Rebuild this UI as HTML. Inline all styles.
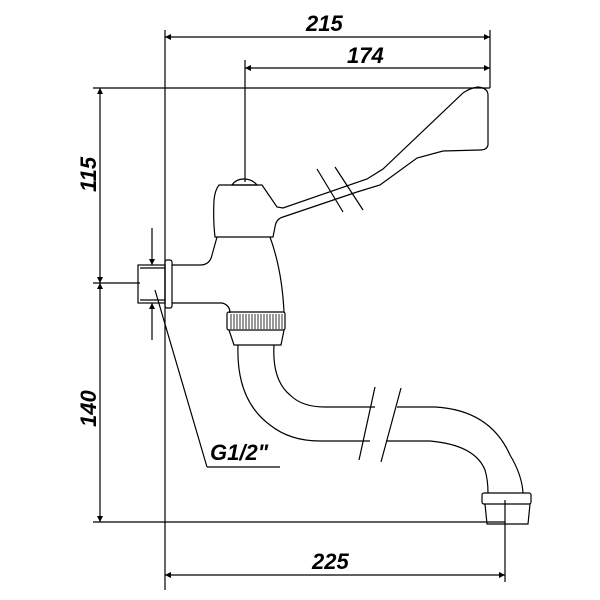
<!DOCTYPE html>
<html><head><style>html,body{margin:0;padding:0;background:#fff}svg{display:block}
text{font-family:"Liberation Sans",sans-serif;font-weight:bold;font-style:italic;font-size:22px;fill:#000}</style></head>
<body>
<svg width="600" height="600" viewBox="0 0 600 600" xmlns="http://www.w3.org/2000/svg">
<defs><marker id="a" viewBox="0 0 10 10" refX="10" refY="5" markerWidth="10" markerHeight="6" orient="auto-start-reverse" markerUnits="userSpaceOnUse"><path d="M0,0 L10,5 L0,10 z" fill="#000"/></marker></defs>
<g stroke="#000" stroke-width="1.2" fill="none">
<line x1="165" y1="30" x2="165" y2="590"/>
<line x1="490" y1="30" x2="490" y2="88"/>
<line x1="165" y1="37" x2="490" y2="37" marker-start="url(#a)" marker-end="url(#a)"/>
<line x1="245" y1="60" x2="245" y2="182"/>
<line x1="245" y1="68" x2="490" y2="68" marker-start="url(#a)" marker-end="url(#a)"/>
<line x1="93" y1="88" x2="490" y2="88"/>
<line x1="93" y1="283" x2="140" y2="283"/>
<line x1="93" y1="522" x2="505" y2="522"/>
<line x1="100" y1="88" x2="100" y2="283" marker-start="url(#a)" marker-end="url(#a)"/>
<line x1="100" y1="283" x2="100" y2="522" marker-start="url(#a)" marker-end="url(#a)"/>
<line x1="505" y1="500" x2="505" y2="582"/>
<line x1="165" y1="575" x2="505" y2="575" marker-start="url(#a)" marker-end="url(#a)"/>
<line x1="152" y1="228" x2="152" y2="265" marker-end="url(#a)"/>
<line x1="152" y1="340" x2="152" y2="303" marker-end="url(#a)"/>
<line x1="155" y1="290" x2="207" y2="467"/>
<line x1="207" y1="467" x2="280" y2="467"/>
<rect x="138" y="265" width="27" height="38"/>
<line x1="140" y1="268" x2="165" y2="268"/><line x1="140" y1="300" x2="165" y2="300"/>
<rect x="165" y="260" width="7" height="48" rx="2"/>
<path d="M232,185 Q236,179 244,179 Q252,179 257,185 Z"/>
<path d="M219,185 L262,185 L277,207 L283,208 L367,179 L383,169 L463,93 Q470,88 478,87 Q488,88 488,95 L488,145 Q487,150 480,150 L443,151 L417,158 L380,185 L357,192 L283,217 Q276,219 275,227 L273,237 L215,237 Q213,220 214,200 Q215,190 219,185 Z"/>
<path d="M217,237 L212,255 Q210,265 200,265 L172,265"/>
<path d="M172,303 L222,303 Q230,305 230,313"/>
<path d="M270,237 Q282,270 284,312"/>
<rect x="227" y="312" width="58" height="18" rx="2"/>
<g stroke-width="0.8">
<path d="M231,314V329M234,314V329M237,314V329M240,314V329M243,314V329M246,314V329M249,314V329M252,314V329M255,314V329M258,314V329M261,314V329M264,314V329M267,314V329M270,314V329M273,314V329M276,314V329M279,314V329M282,314V329"/>
</g>
<path d="M229,330 L234,345 L281,345 L284,330"/>
<path d="M238,345 Q236,400 270,425 Q290,441 320,441 L370,441"/>
<path d="M274,345 Q272,380 290,395 Q302,407 325,407 L375,407"/>
<path d="M375,387 L359,460 M401,388 L381,462"/>
<path d="M397,407 L435,407 Q490,410 510,455 Q522,475 523,493"/>
<path d="M386,441 L430,441 Q475,445 485,470 Q488,480 488,493"/>
<rect x="482" y="493" width="49" height="11" rx="2"/>
<path d="M485,504 L487,524 L528,524 L530,504"/>
<path d="M317,169 L343,212 M335,167 L363,210"/>
</g>
<text x="306" y="31">215</text>
<text x="347" y="63">174</text>
<text x="312" y="569">225</text>
<text x="210" y="460">G1/2"</text>
<text transform="translate(96,192) rotate(-90)">115</text>
<text transform="translate(96,427) rotate(-90)">140</text>
</svg>
</body></html>
